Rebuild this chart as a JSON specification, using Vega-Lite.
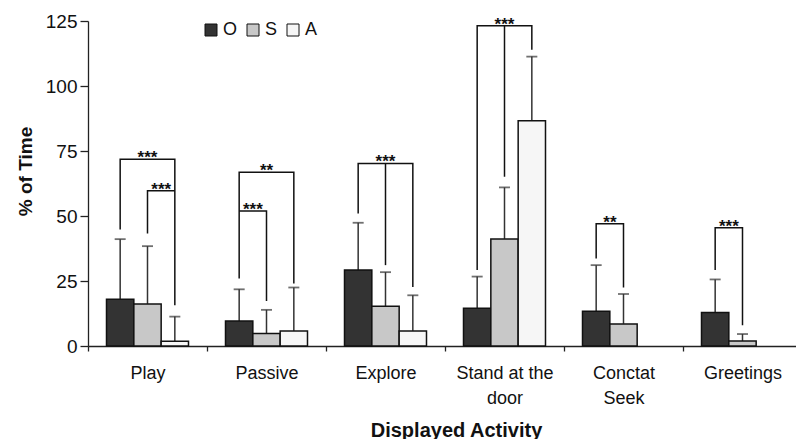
{
  "$schema": "https://vega.github.io/schema/vega-lite/v6.json",
  "width": 708,
  "height": 325,
  "autosize": {"type": "none"},
  "padding": {"left": 88, "top": 21, "right": 0, "bottom": 93},
  "background": "white",
  "config": {
    "font": "Liberation Sans",
    "view": {"stroke": null},
    "axis": {
      "domainColor": "#222", "tickColor": "#222", "domainWidth": 1.3, "tickWidth": 1.3,
      "grid": false, "labelFont": "Liberation Sans", "labelFontSize": 18, "labelColor": "#111",
      "titleFont": "Liberation Sans", "titleFontWeight": "bold", "titleColor": "#111"
    },
    "axisX": {
      "tickBand": "extent", "tickSize": 5, "labelPadding": 13, "labelAngle": 0, "labelLineHeight": 25.7,
      "titleFontSize": 20, "titleX": 368, "titleY": 90, "titleBaseline": "alphabetic", "titleAlign": "center"
    },
    "axisY": {
      "tickSize": 8, "labelPadding": 3, "labelFontSize": 19, "titleFontSize": 19, "titleX": -57, "titleY": 150,
      "titleAngle": -90, "titleBaseline": "alphabetic", "titleAlign": "center"
    }
  },
  "datasets": {
    "bars": [
      {"activity": "Play", "group": "O", "value": 18.0, "upper": 41.1},
      {"activity": "Play", "group": "S", "value": 16.2, "upper": 38.4},
      {"activity": "Play", "group": "A", "value": 1.8, "upper": 11.3},
      {"activity": "Passive", "group": "O", "value": 9.6, "upper": 21.8},
      {"activity": "Passive", "group": "S", "value": 4.8, "upper": 13.9},
      {"activity": "Passive", "group": "A", "value": 5.8, "upper": 22.5},
      {"activity": "Explore", "group": "O", "value": 29.2, "upper": 47.4},
      {"activity": "Explore", "group": "S", "value": 15.3, "upper": 28.4},
      {"activity": "Explore", "group": "A", "value": 5.8, "upper": 19.5},
      {"activity": "Stand at the door", "group": "O", "value": 14.5, "upper": 26.7},
      {"activity": "Stand at the door", "group": "S", "value": 41.2, "upper": 61.0},
      {"activity": "Stand at the door", "group": "A", "value": 86.6, "upper": 111.3},
      {"activity": "Conctat Seek", "group": "O", "value": 13.4, "upper": 31.1},
      {"activity": "Conctat Seek", "group": "S", "value": 8.5, "upper": 20.0},
      {"activity": "Greetings", "group": "O", "value": 12.9, "upper": 25.6},
      {"activity": "Greetings", "group": "S", "value": 1.9, "upper": 4.6}
    ],
    "brackets": [
      {"activity": "Play", "bid": "b1", "group": "O", "value": 44.8, "seq": 1},
      {"activity": "Play", "bid": "b1", "group": "O", "value": 71.8, "seq": 2},
      {"activity": "Play", "bid": "b1", "group": "A", "value": 71.8, "seq": 3},
      {"activity": "Play", "bid": "b1", "group": "A", "value": 15.7, "seq": 4},
      {"activity": "Play", "bid": "b2", "group": "S", "value": 43.3, "seq": 1},
      {"activity": "Play", "bid": "b2", "group": "S", "value": 59.7, "seq": 2},
      {"activity": "Play", "bid": "b2", "group": "A", "value": 59.7, "seq": 3},
      {"activity": "Passive", "bid": "b3", "group": "O", "value": 26.0, "seq": 1},
      {"activity": "Passive", "bid": "b3", "group": "O", "value": 66.8, "seq": 2},
      {"activity": "Passive", "bid": "b3", "group": "A", "value": 66.8, "seq": 3},
      {"activity": "Passive", "bid": "b3", "group": "A", "value": 24.0, "seq": 4},
      {"activity": "Passive", "bid": "b4", "group": "O", "value": 51.9, "seq": 1},
      {"activity": "Passive", "bid": "b4", "group": "S", "value": 51.9, "seq": 2},
      {"activity": "Passive", "bid": "b4", "group": "S", "value": 17.3, "seq": 3},
      {"activity": "Explore", "bid": "b5", "group": "O", "value": 51.0, "seq": 1},
      {"activity": "Explore", "bid": "b5", "group": "O", "value": 70.2, "seq": 2},
      {"activity": "Explore", "bid": "b5", "group": "A", "value": 70.2, "seq": 3},
      {"activity": "Explore", "bid": "b5", "group": "A", "value": 22.7, "seq": 4},
      {"activity": "Explore", "bid": "b6", "group": "S", "value": 70.2, "seq": 1},
      {"activity": "Explore", "bid": "b6", "group": "S", "value": 31.1, "seq": 2},
      {"activity": "Stand at the door", "bid": "b7", "group": "O", "value": 29.2, "seq": 1},
      {"activity": "Stand at the door", "bid": "b7", "group": "O", "value": 123.2, "seq": 2},
      {"activity": "Stand at the door", "bid": "b7", "group": "A", "value": 123.2, "seq": 3},
      {"activity": "Stand at the door", "bid": "b7", "group": "A", "value": 113.9, "seq": 4},
      {"activity": "Stand at the door", "bid": "b8", "group": "S", "value": 123.2, "seq": 1},
      {"activity": "Stand at the door", "bid": "b8", "group": "S", "value": 65.1, "seq": 2},
      {"activity": "Conctat Seek", "bid": "b9", "group": "O", "value": 33.7, "seq": 1},
      {"activity": "Conctat Seek", "bid": "b9", "group": "O", "value": 47.0, "seq": 2},
      {"activity": "Conctat Seek", "bid": "b9", "group": "S", "value": 47.0, "seq": 3},
      {"activity": "Conctat Seek", "bid": "b9", "group": "S", "value": 22.5, "seq": 4},
      {"activity": "Greetings", "bid": "b10", "group": "O", "value": 29.2, "seq": 1},
      {"activity": "Greetings", "bid": "b10", "group": "O", "value": 45.5, "seq": 2},
      {"activity": "Greetings", "bid": "b10", "group": "S", "value": 45.5, "seq": 3},
      {"activity": "Greetings", "bid": "b10", "group": "S", "value": 8.0, "seq": 4}
    ],
    "stars": [
      {"activity": "Play", "group": "S", "value": 71.8, "label": "***", "span": "wide"},
      {"activity": "Play", "group": "S", "value": 59.7, "label": "***", "span": "adjacent"},
      {"activity": "Passive", "group": "S", "value": 66.8, "label": "**", "span": "wide"},
      {"activity": "Passive", "group": "O", "value": 51.9, "label": "***", "span": "adjacent"},
      {"activity": "Explore", "group": "S", "value": 70.2, "label": "***", "span": "wide"},
      {"activity": "Stand at the door", "group": "S", "value": 123.2, "label": "***", "span": "wide"},
      {"activity": "Conctat Seek", "group": "O", "value": 47.0, "label": "**", "span": "adjacent"},
      {"activity": "Greetings", "group": "O", "value": 45.5, "label": "***", "span": "adjacent"}
    ]
  },
  "encoding": {
    "x": {
      "field": "activity", "type": "nominal",
      "sort": ["Play", "Passive", "Explore", "Stand at the door", "Conctat Seek", "Greetings"],
      "scale": {"domain": ["Play", "Passive", "Explore", "Stand at the door", "Conctat Seek", "Greetings"], "range": [0, 714], "paddingInner": 0, "paddingOuter": 0},
      "title": "Displayed Activity",
      "axis": {"labelExpr": "datum.label == 'Stand at the door' ? ['Stand at the', 'door'] : datum.label == 'Conctat Seek' ? ['Conctat', 'Seek'] : datum.label"}
    },
    "xOffset": {
      "field": "group", "type": "nominal",
      "scale": {"domain": ["O", "S", "A"], "paddingInner": 0, "paddingOuter": 0.677}
    },
    "y": {
      "field": "value", "type": "quantitative",
      "scale": {"domain": [0, 125], "nice": false},
      "title": "% of Time",
      "axis": {"values": [0, 25, 50, 75, 100, 125]}
    }
  },
  "layer": [
    {
      "data": {"name": "bars"},
      "mark": {"type": "rule", "stroke": "#333", "strokeWidth": 1.5},
      "encoding": {"y2": {"field": "upper"}}
    },
    {
      "data": {"name": "bars"},
      "mark": {"type": "tick", "color": "#333", "size": 11, "thickness": 1.8},
      "encoding": {"y": {"field": "upper", "type": "quantitative", "title": "% of Time"}}
    },
    {
      "data": {"name": "bars"},
      "mark": {"type": "bar", "stroke": "#111", "strokeWidth": 1.5},
      "encoding": {
        "fill": {
          "field": "group", "type": "nominal",
          "scale": {"domain": ["O", "S", "A"], "range": ["#333333", "#c8c8c8", "#f6f6f6"]},
          "legend": {
            "orient": "none", "legendX": 114, "legendY": 0, "direction": "horizontal", "title": null,
            "symbolType": "square", "symbolSize": 144, "symbolStrokeColor": "#111", "symbolStrokeWidth": 1,
            "labelFontSize": 18, "labelFont": "Liberation Sans", "labelOffset": 3, "columnPadding": 6, "labelColor": "#111"
          }
        }
      }
    },
    {
      "data": {"name": "brackets"},
      "mark": {"type": "line", "stroke": "#111", "strokeWidth": 1.5},
      "encoding": {
        "detail": {"field": "bid", "type": "nominal"},
        "order": {"field": "seq", "type": "quantitative"}
      }
    },
    {
      "data": {"name": "stars"},
      "transform": [{"filter": "datum.span == 'wide'"}],
      "mark": {"type": "text", "fontSize": 17, "fontWeight": "bold", "baseline": "alphabetic", "align": "center", "dy": 4, "color": "#111"},
      "encoding": {"text": {"field": "label"}}
    },
    {
      "data": {"name": "stars"},
      "transform": [{"filter": "datum.span == 'adjacent'"}],
      "mark": {"type": "text", "fontSize": 17, "fontWeight": "bold", "baseline": "alphabetic", "align": "center", "dy": 4, "dx": 13.7, "color": "#111"},
      "encoding": {"text": {"field": "label"}}
    }
  ]
}
